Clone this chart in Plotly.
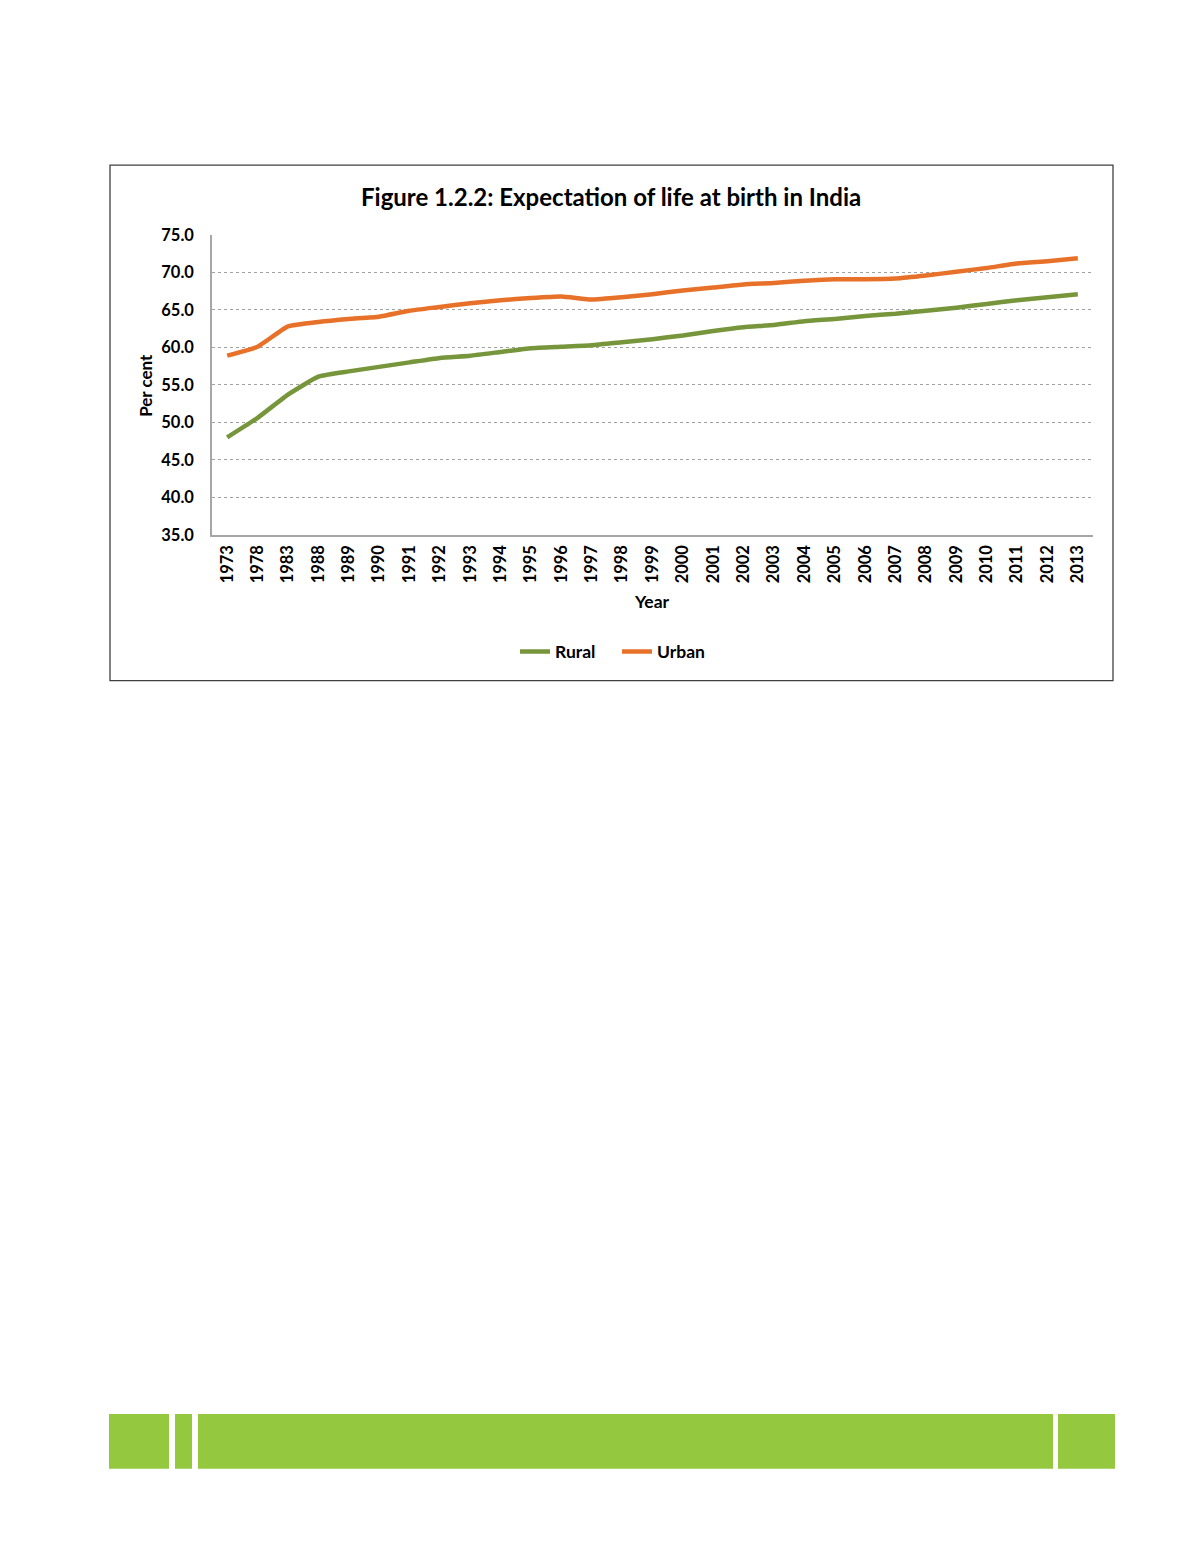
import plotly.graph_objects as go

years = ["1973", "1978", "1983", "1988", "1989", "1990", "1991", "1992", "1993", "1994",
         "1995", "1996", "1997", "1998", "1999", "2000", "2001", "2002", "2003", "2004",
         "2005", "2006", "2007", "2008", "2009", "2010", "2011", "2012", "2013"]
rural = [48.0, 50.6, 53.7, 56.1, 56.8, 57.4, 58.0, 58.6, 58.9, 59.4,
         59.9, 60.1, 60.3, 60.7, 61.1, 61.6, 62.2, 62.7, 63.0, 63.5,
         63.8, 64.2, 64.5, 64.9, 65.3, 65.8, 66.3, 66.7, 67.1]
urban = [58.9, 60.1, 62.8, 63.4, 63.8, 64.1, 64.9, 65.4, 65.9, 66.3,
         66.6, 66.8, 66.4, 66.7, 67.1, 67.6, 68.0, 68.4, 68.6, 68.9,
         69.1, 69.1, 69.2, 69.6, 70.1, 70.6, 71.2, 71.5, 71.9]
y_ticks = [35, 40, 45, 50, 55, 60, 65, 70, 75]

# page is 1194 wide; the default 8px body margin surrounds the figure
PAGE_W, PAGE_H, M = 1194, 1557, 8
W, H = PAGE_W - 2 * M, PAGE_H - 2 * M
FONT = "Lato"
# vertical placement compensation measured for this page layout
VS, VTOP = 1557 / 1576, 18


def px(x):
    return (x - M) / W


def py(y):
    return 1 - (y / VS - VTOP) / H


fig = go.Figure()
fig.add_trace(go.Scatter(x=years, y=rural, name="Rural", mode="lines",
                         line=dict(color="#77963B", width=4.5, shape="spline", smoothing=0.4)))
fig.add_trace(go.Scatter(x=years, y=urban, name="Urban", mode="lines",
                         line=dict(color="#E8712A", width=4.5, shape="spline", smoothing=0.4)))

shapes = [
    dict(type="rect", xref="paper", yref="paper", x0=px(110), x1=px(1113), y0=py(681), y1=py(165),
         line=dict(color="#404040", width=1.3), fillcolor="rgba(0,0,0,0)", layer="below"),
]
for x0, x1 in [(109, 169), (175, 192), (198, 1053), (1058, 1115)]:
    shapes.append(dict(type="rect", xref="paper", yref="paper", x0=px(x0), x1=px(x1),
                       y0=py(1470), y1=py(1415), line=dict(width=0), fillcolor="#93C83F"))

fig.update_layout(
    width=W, height=H,
    margin=dict(l=0, r=0, t=0, b=0),
    paper_bgcolor="white", plot_bgcolor="white",
    font=dict(family=FONT, color="black"),
    showlegend=True,
    legend=dict(orientation="h", x=px(617), xanchor="center", y=py(652), yanchor="middle",
                font=dict(family=FONT, size=17.5, color="black", weight="bold"),
                itemwidth=30, entrywidth=57, entrywidthmode="pixels",
                tracegroupgap=0, bgcolor="rgba(0,0,0,0)"),
    xaxis=dict(domain=[px(212), px(1093)], type="category", range=[-0.5, len(years) - 0.5],
               tickangle=-90,
               tickfont=dict(family=FONT, size=16.5, color="black", weight="bold"),
               showgrid=False, showline=True, linecolor="#a6a6a6", linewidth=1.5,
               ticks="", ticklen=0, ticklabelstandoff=2),
    yaxis=dict(domain=[py(535), py(235)], range=[35, 75], tickvals=y_ticks, tickformat=".1f",
               tickfont=dict(family=FONT, size=16.5, color="black", weight="bold"),
               showgrid=True, gridcolor="#a0a0a0", griddash="dot", gridwidth=1,
               showline=True, linecolor="#a6a6a6", linewidth=1.5, zeroline=False,
               ticks="", ticklabelstandoff=13),
    shapes=shapes,
    annotations=[
        dict(text="<b>Figure 1.2.2: Expectation of life at birth in India</b>", xref="paper", yref="paper",
             x=px(611), y=py(196), xanchor="center", yanchor="middle", showarrow=False,
             font=dict(family=FONT, size=24, color="black")),
        dict(text="<b>Per cent</b>", xref="paper", yref="paper", x=px(146), y=py(386),
             xanchor="center", yanchor="middle", showarrow=False, textangle=-90,
             font=dict(family=FONT, size=17, color="black")),
        dict(text="<b>Year</b>", xref="paper", yref="paper", x=px(652), y=py(602),
             xanchor="center", yanchor="middle", showarrow=False,
             font=dict(family=FONT, size=17.5, color="black")),
    ],
)

fig.write_html("out.html", config={"displayModeBar": False})
